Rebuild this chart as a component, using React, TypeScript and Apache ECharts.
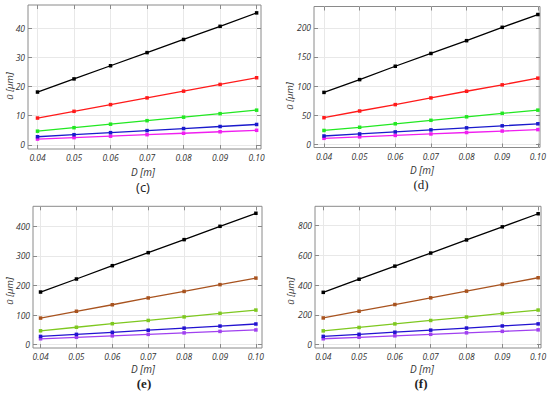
import React, { useEffect, useRef } from "react";
import * as echarts from "echarts";

const D = [0.04, 0.05, 0.06, 0.07, 0.08, 0.09, 0.1];
const xTicks = [0.04, 0.05, 0.06, 0.07, 0.08, 0.09, 0.1];

const cBlack = [18.1, 22.6, 27.1, 31.6, 36.1, 40.6, 45.2];
const cRed = [9.2, 11.5, 13.8, 16.1, 18.4, 20.7, 23.0];
const cGreen = [4.7, 5.9, 7.1, 8.3, 9.5, 10.7, 11.9];
const cBlue = [2.8, 3.5, 4.2, 4.9, 5.6, 6.3, 7.0];
const cMagenta = [2.0, 2.5, 3.0, 3.5, 4.0, 4.5, 5.0];
const cTicks = [0, 10, 20, 30, 40];

const dBlack = [89, 111, 134, 156, 178, 201, 223];
const dRed = [45.5, 57, 68, 79.5, 91, 102, 113.5];
const dGreen = [23.5, 29, 35, 41, 47, 53, 58.5];
const dBlue = [14, 17.5, 21, 24.5, 28, 31.5, 35];
const dMagenta = [10, 12.5, 15, 17.5, 20, 22.5, 25];
const dTicks = [0, 50, 100, 150, 200];

const eBlack = [178, 222, 267, 311, 355, 400, 444];
const eBrown = [90, 113, 135, 158, 180, 203, 225];
const eGreen = [47, 59, 71, 82, 94, 106, 117];
const eBlue = [28, 35, 42, 49, 56, 63, 70];
const ePurple = [20, 25, 30, 35, 40, 45, 50];
const eTicks = [0, 100, 200, 300, 400];

const fBlack = [352, 440, 528, 616, 704, 792, 880];
const fBrown = [180, 225, 270, 315, 360, 405, 450];
const fGreen = [93, 116, 140, 163, 186, 210, 233];
const fBlue = [56, 70, 84, 98, 112, 126, 140];
const fPurple = [40, 50, 60, 70, 80, 90, 100];
const fTicks = [0, 200, 400, 600, 800];

const colorsA = ["#000000", "#ff1a1a", "#22e822", "#1a1acc", "#f01ef0"];
const colorsB = ["#000000", "#a8531f", "#7ec820", "#2212d0", "#a040f0"];

const panels = [
  {
    grid: { left: 28, top: 5, width: 233, height: 144 },
    xMin: 0.0374, xMax: 0.1012, yMin: -1.4, yMax: 47.9,
    yTicks: cTicks, series: [cBlack, cRed, cGreen, cBlue, cMagenta], colors: colorsA,
    tag: "(c)", tagFont: "Open Sans", tagBold: false,
    xName: [143, 172], yName: [9, 86], tagPos: [143, 187],
  },
  {
    grid: { left: 314, top: 6.5, width: 226, height: 141 },
    xMin: 0.0372, xMax: 0.1006, yMin: -5.8, yMax: 236.8,
    yTicks: dTicks, series: [dBlack, dRed, dGreen, dBlue, dMagenta], colors: colorsA,
    tag: "(d)", tagFont: "Liberation Serif", tagBold: false,
    xName: [422, 170], yName: [289, 96], tagPos: [421, 184],
  },
  {
    grid: { left: 33, top: 206.3, width: 229, height: 141.7 },
    xMin: 0.0379, xMax: 0.1017, yMin: -11.1, yMax: 467.6,
    yTicks: eTicks, series: [eBlack, eBrown, eGreen, eBlue, ePurple], colors: colorsB,
    tag: "(e)", tagFont: "Liberation Serif", tagBold: true,
    xName: [143, 368.7], yName: [9, 291], tagPos: [144, 383.7],
  },
  {
    grid: { left: 315, top: 206.3, width: 226, height: 141.7 },
    xMin: 0.0377, xMax: 0.1008, yMin: -22, yMax: 930,
    yTicks: fTicks, series: [fBlack, fBrown, fGreen, fBlue, fPurple], colors: colorsB,
    tag: "(f)", tagFont: "Liberation Serif", tagBold: true,
    xName: [422, 368.7], yName: [290, 291], tagPos: [421, 383.7],
  },
];

const frame = "#8a8a8a";
const gridLine = "#e8e8e8";
const labelFont = { fontFamily: "Open Sans", fontStyle: "italic" as const, fontSize: 8.5, color: "#333" };

export default function App() {
  const ref = useRef<HTMLDivElement>(null);
  useEffect(() => {
    document.body.style.margin = "0";
    if (!ref.current) return;
    const chart = echarts.init(ref.current, undefined, { renderer: "svg" });
    const grids: any[] = [];
    const xAxes: any[] = [];
    const yAxes: any[] = [];
    const series: any[] = [];
    const graphic: any[] = [];
    panels.forEach((p, pi) => {
      grids.push({ ...p.grid, show: true, borderColor: frame, borderWidth: 1, backgroundColor: "#fff" });
      const xBase = {
        type: "value", gridIndex: pi, min: p.xMin, max: p.xMax,
        axisLine: { show: false, onZero: false },
        axisTick: { show: true, inside: true, length: 4, lineStyle: { color: frame }, customValues: xTicks },
      };
      xAxes.push({
        ...xBase, position: "bottom",
        axisLabel: { ...labelFont, margin: 4, customValues: xTicks, formatter: (v: number) => v.toFixed(2) },
        splitLine: { show: true, lineStyle: { color: gridLine, width: 1 } },
      });
      xAxes.push({ ...xBase, position: "top", axisLabel: { show: false }, splitLine: { show: false } });
      const yBase = {
        type: "value", gridIndex: pi, min: p.yMin, max: p.yMax,
        axisLine: { show: false, onZero: false },
        axisTick: { show: true, inside: true, length: 4, lineStyle: { color: frame }, customValues: p.yTicks },
      };
      yAxes.push({
        ...yBase, position: "left",
        axisLabel: { ...labelFont, margin: 3, customValues: p.yTicks },
        splitLine: { show: true, lineStyle: { color: gridLine, width: 1 } },
      });
      yAxes.push({ ...yBase, position: "right", axisLabel: { show: false }, splitLine: { show: false } });
      p.series.forEach((vals, si) => {
        series.push({
          type: "line", xAxisIndex: pi * 2, yAxisIndex: pi * 2,
          data: D.map((d, i) => [d, vals[i]]),
          symbol: "rect", symbolSize: 3.5, showSymbol: true,
          color: p.colors[si],
          lineStyle: { color: p.colors[si], width: 1.3 },
          itemStyle: { color: p.colors[si] },
          z: 10 - si,
        });
      });
      graphic.push({
        type: "text", x: p.xName[0], y: p.xName[1],
        style: {
          text: "D [m]", align: "center", verticalAlign: "middle",
          textAlign: "center", textVerticalAlign: "middle",
          fontFamily: "Open Sans", fontStyle: "italic", fontSize: 10, fill: "#333",
        },
      });
      graphic.push({
        type: "text", x: p.yName[0], y: p.yName[1], rotation: Math.PI / 2,
        style: {
          text: "ū [μm]", align: "center", verticalAlign: "middle",
          textAlign: "center", textVerticalAlign: "middle",
          fontFamily: "Open Sans", fontStyle: "italic", fontSize: 9.5, fill: "#333",
        },
      });
      graphic.push({
        type: "text", x: p.tagPos[0], y: p.tagPos[1],
        style: {
          text: p.tag, align: "center", verticalAlign: "middle",
          textAlign: "center", textVerticalAlign: "middle",
          fontFamily: p.tagFont, fontWeight: p.tagBold ? "bold" : "normal",
          fontSize: 13, fill: "#222",
        },
      });
    });
    chart.setOption({
      animation: false,
      backgroundColor: "#fff",
      grid: grids,
      xAxis: xAxes,
      yAxis: yAxes,
      series,
      graphic,
    });
    return () => chart.dispose();
  }, []);
  return <div ref={ref} style={{ width: 550, height: 394 }} />;
}
